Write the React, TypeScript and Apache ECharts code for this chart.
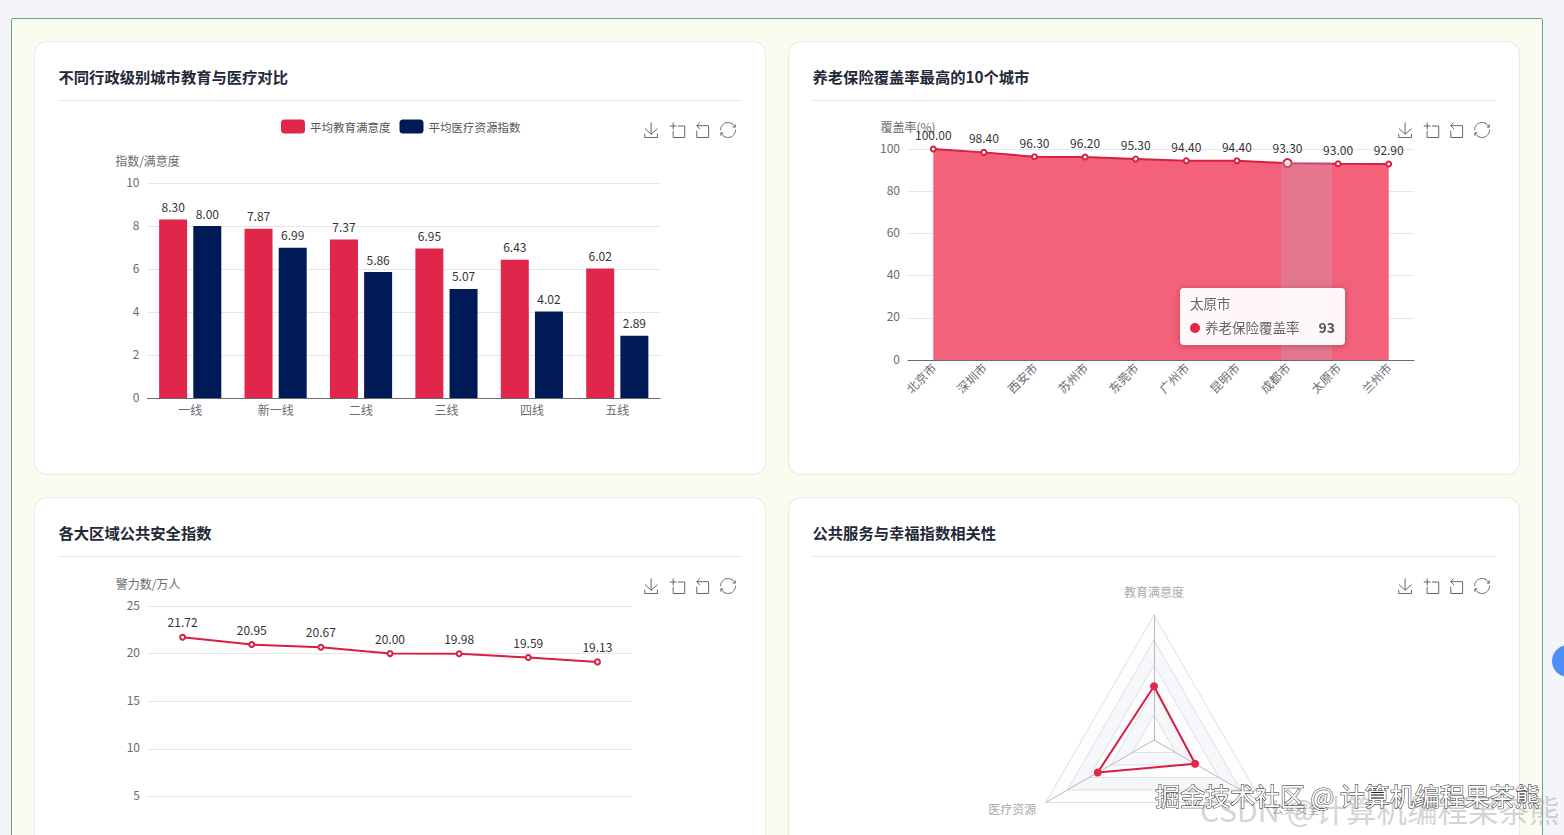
import React, { useEffect, useRef } from "react";
import * as echarts from "echarts";

const FONT = '"Noto Sans CJK SC", "Noto Sans", sans-serif';
const RED = "#e0264b";
const LINE_RED = "#d81e42";
const NAVY = "#001a57";
const AXIS_GREY = "#696b70";
const SPLIT = "#e4e6ea";

const levelCategories = ["一线", "新一线", "二线", "三线", "四线", "五线"];
const eduValues = [8.3, 7.87, 7.37, 6.95, 6.43, 6.02];
const medValues = [8.0, 6.99, 5.86, 5.07, 4.02, 2.89];

const pensionCities = ["北京市", "深圳市", "西安市", "苏州市", "东莞市", "广州市", "昆明市", "成都市", "太原市", "兰州市"];
const pensionValues = [100, 98.4, 96.3, 96.2, 95.3, 94.4, 94.4, 93.3, 93.0, 92.9];

const regionNames = ["华东", "华北", "华南", "华中", "西南", "东北", "西北"];
const policeValues = [21.72, 20.95, 20.67, 20.0, 19.98, 19.59, 19.13];

const radarNames = ["教育满意度", "医疗资源", "公共安全"];
const radarValues = [4.3, 5.2, 3.8];

const CARD_W = 730;
const CARD_H = 432;

const toolbox = {
  right: 12,
  top: 63,
  itemSize: 15,
  itemGap: 7,
  feature: { saveAsImage: {}, dataZoom: {}, restore: {} },
  iconStyle: { borderColor: "#666" },
};

function head(text: string) {
  return {
    title: {
      text,
      left: 18.5,
      top: 21,
      textStyle: { fontSize: 15.3, fontWeight: "bold", color: "#1f2937", fontFamily: FONT },
    },
    graphic: [
      {
        type: "line",
        shape: { x1: 23, y1: 58.5, x2: 707, y2: 58.5 },
        style: { stroke: "#e5e7eb", lineWidth: 1 },
      },
    ] as any[],
  };
}

const twoDecimals = (p: any) => Number(Array.isArray(p.value) ? p.value[1] : p.value).toFixed(2);

function valueLabel(shift: number) {
  return {
    show: true,
    position: "top",
    color: "#333",
    fontSize: 12,
    fontFamily: FONT,
    offset: [0, shift],
    formatter: twoDecimals,
  };
}

function yAxis(name: string, max: number, interval: number) {
  return {
    type: "value",
    name,
    min: 0,
    max,
    interval,
    nameGap: 17,
    nameTextStyle: { color: AXIS_GREY, fontSize: 12, fontFamily: FONT },
    axisLabel: { color: AXIS_GREY, fontSize: 12, fontFamily: FONT, verticalAlign: "bottom", lineHeight: 4 },
    splitLine: { lineStyle: { color: SPLIT } },
  };
}

function xAxis(data: string[], rotate = 0) {
  return {
    type: "category",
    data,
    axisLine: { lineStyle: { color: AXIS_GREY } },
    axisTick: { lineStyle: { color: AXIS_GREY } },
    axisLabel: { color: AXIS_GREY, fontSize: 12, fontFamily: FONT, rotate, interval: 0, margin: 5 },
  };
}

const barOption = {
  animation: false,
  ...head("不同行政级别城市教育与医疗对比"),
  toolbox,
  legend: {
    left: 241,
    top: 72.5,
    itemWidth: 24,
    itemHeight: 14,
    itemGap: 9,
    textStyle: { color: "#555", fontSize: 11.5, fontFamily: FONT },
  },
  grid: { left: 112.5, top: 141, width: 512.5, height: 215 },
  xAxis: xAxis(levelCategories),
  yAxis: yAxis("指数/满意度", 10, 2),
  series: [
    { name: "平均教育满意度", type: "bar", data: eduValues, barWidth: 28, barGap: "22%", itemStyle: { color: RED }, label: valueLabel(-2) },
    { name: "平均医疗资源指数", type: "bar", data: medValues, barWidth: 28, itemStyle: { color: NAVY }, label: valueLabel(-2) },
  ],
};

const areaHead = head("养老保险覆盖率最高的10个城市");
areaHead.graphic.push({
  type: "rect",
  z: 20,
  shape: { x: 492, y: 120, width: 51, height: 198 },
  style: { fill: "rgba(195,170,190,0.3)" },
});

const areaOption = {
  animation: false,
  ...areaHead,
  toolbox,
  tooltip: {
    trigger: "item",
    alwaysShowContent: true,
    transitionDuration: 0,
    position: [391, 246],
    padding: [5, 10, 8, 10],
    backgroundColor: "rgba(255,255,255,0.95)",
    borderWidth: 0,
    extraCssText: "box-shadow:0 1px 6px rgba(0,0,0,0.25);border-radius:4px;width:145px;",
    formatter: () =>
      `<div style="font:13.5px/20px ${FONT.replace(/"/g, "'")};color:#666">太原市</div>` +
      `<div style="font:13.5px/20px ${FONT.replace(/"/g, "'")};color:#666;margin-top:4px;display:flex;align-items:center;justify-content:space-between">` +
      `<span><span style="display:inline-block;width:10px;height:10px;border-radius:50%;background:${RED};margin-right:5px"></span>养老保险覆盖率</span>` +
      `<b style="font-size:14px;color:#555">93</b></div>`,
  },
  grid: { left: 119, top: 107, width: 506, height: 211 },
  xAxis: xAxis(pensionCities, 45),
  yAxis: yAxis("覆盖率(%)", 100, 20),
  series: [
    {
      name: "养老保险覆盖率",
      type: "line",
      data: pensionValues.map((value, i) => (i === 7 ? { value, symbolSize: 8 } : value)),
      symbol: "emptyCircle",
      symbolSize: 5,
      lineStyle: { color: LINE_RED, width: 2 },
      itemStyle: { color: LINE_RED, borderWidth: 1.5 },
      areaStyle: { color: "#f3617a", opacity: 1 },
      label: valueLabel(0),
    },
  ],
};

const lineOption = {
  animation: false,
  ...head("各大区域公共安全指数"),
  toolbox,
  grid: { left: 113, top: 108, width: 484, height: 238 },
  xAxis: xAxis(regionNames),
  yAxis: yAxis("警力数/万人", 25, 5),
  series: [
    {
      name: "公共安全指数",
      type: "line",
      data: policeValues,
      symbol: "emptyCircle",
      symbolSize: 5,
      lineStyle: { color: LINE_RED, width: 2 },
      itemStyle: { color: LINE_RED, borderWidth: 1.5 },
      label: valueLabel(-1),
    },
  ],
};

const radarOption = {
  animation: false,
  ...head("公共服务与幸福指数相关性"),
  toolbox,
  radar: {
    center: [365, 242],
    radius: 125,
    splitNumber: 5,
    shape: "polygon",
    nameGap: 11,
    indicator: radarNames.map((name) => ({ name, max: 10 })),
    axisName: { color: "#aaa", fontSize: 12, fontFamily: FONT, padding: [0, 0, 7, 0] },
    axisLine: { lineStyle: { color: "#b8b8b8" } },
    splitLine: { lineStyle: { color: "#dcdfe6" } },
    splitArea: { areaStyle: { color: ["rgba(250,250,250,0.3)", "rgba(210,219,238,0.22)"] } },
  },
  series: [
    {
      type: "radar",
      symbol: "circle",
      symbolSize: 8,
      data: [{ value: radarValues, name: "相关性" }],
      lineStyle: { color: LINE_RED, width: 2 },
      itemStyle: { color: RED },
    },
  ],
};

const overlayOption = {
  animation: false,
  graphic: [
    {
      type: "text",
      x: 1200,
      y: 809,
      style: {
        text: "CSDN @计算机编程果茶熊",
        fill: "rgba(150,150,150,0.42)",
        font: `30.5px ${FONT}`,
        textVerticalAlign: "middle",
      },
    },
    {
      type: "text",
      x: 1155,
      y: 795,
      style: {
        text: "掘金技术社区 @ 计算机编程果茶熊",
        fill: "#fff",
        stroke: "#222",
        lineWidth: 1,
        font: `25px ${FONT}`,
        textVerticalAlign: "middle",
      },
    },
  ],
};

function Chart({ option, style, after }: { option: any; style: React.CSSProperties; after?: (c: any) => void }) {
  const ref = useRef<HTMLDivElement>(null);
  useEffect(() => {
    const chart = echarts.init(ref.current!, undefined, { renderer: "svg" });
    chart.setOption(option);
    after?.(chart);
    return () => chart.dispose();
  }, []);
  return <div ref={ref} style={style} />;
}

function Card({ x, y, option, after }: { x: number; y: number; option: any; after?: (c: any) => void }) {
  return (
    <div
      style={{
        position: "absolute",
        left: x,
        top: y,
        width: CARD_W,
        height: CARD_H,
        background: "#fff",
        borderRadius: 12,
        boxShadow: "0 0 0 1px #e9e9e4",
      }}
    >
      <Chart option={option} after={after} style={{ width: CARD_W, height: CARD_H }} />
    </div>
  );
}

export default function App() {
  return (
    <div style={{ position: "fixed", left: 0, top: 0, width: 1564, height: 835, overflow: "hidden", background: "#f3f5f8" }}>
      <div
        style={{
          position: "absolute",
          left: 11,
          top: 18,
          width: 1530,
          height: 900,
          background: "#fbfbf0",
          border: "1.5px solid #5fa88f",
          borderRadius: 2,
        }}
      />
      <Card x={35} y={42} option={barOption} />
      <Card
        x={789}
        y={42}
        option={areaOption}
        after={(c) => c.dispatchAction({ type: "showTip", seriesIndex: 0, dataIndex: 8 })}
      />
      <Card x={35} y={498} option={lineOption} />
      <Card x={789} y={498} option={radarOption} />
      <div
        style={{
          position: "absolute",
          left: 1552,
          top: 645,
          width: 32,
          height: 32,
          borderRadius: "50%",
          background: "#4f8ef7",
        }}
      />
      <Chart
        option={overlayOption}
        style={{ position: "absolute", left: 0, top: 0, width: 1564, height: 835, pointerEvents: "none" }}
      />
    </div>
  );
}
